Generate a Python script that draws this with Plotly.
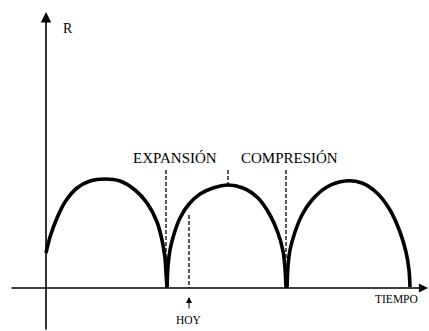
import plotly.graph_objects as go

# Radio del universo (R) frente al tiempo: tres ciclos de expansión y compresión
ciclo1_t = [0, 4, 11, 19, 31, 44, 59, 74, 89, 101, 111, 116, 119, 120, 121]
ciclo1_r = [35, 51, 70, 86, 100, 107, 109, 107, 98, 85, 66, 48, 30, 15, 0]

ciclo2_t = [121, 122, 124, 128, 134, 143, 154, 167, 182, 197, 212, 224, 232, 237, 239, 240]
ciclo2_r = [0, 22, 38, 54, 70, 84, 94, 100, 103, 100, 90, 73, 55, 37, 20, 0]

ciclo3_t = [241, 242, 244, 249, 256, 266, 281, 299, 316, 331, 344, 354, 360, 363, 364]
ciclo3_r = [0, 22, 38, 56, 73, 88, 101, 107, 105, 95, 78, 56, 36, 18, 1]

# marcas punteadas
t_expansion = 120
t_compresion = 240
t_hoy = 143
t_maximo = 182
r_marca_alta = 118
r_hoy = 73
r_maximo = 103

etiquetas = {
    "R": (22, 260),
    "EXPANSIÓN": (129, 130),
    "COMPRESIÓN": (243, 130),
    "TIEMPO": (350, -11),
    "HOY": (143, -32),
}

fig = go.Figure()

for t, r in [(ciclo1_t, ciclo1_r), (ciclo2_t, ciclo2_r), (ciclo3_t, ciclo3_r)]:
    fig.add_trace(go.Scatter(
        x=t, y=r, mode="lines",
        line=dict(color="black", width=3.6, shape="spline", smoothing=0.8),
        hoverinfo="skip", showlegend=False,
    ))

# lineas punteadas
for t, r0, r1 in [
    (t_expansion, r_marca_alta, 30),
    (t_compresion, r_marca_alta, 30),
    (t_hoy, r_hoy, 0),
    (t_maximo, r_marca_alta, r_maximo),
]:
    fig.add_trace(go.Scatter(
        x=[t, t], y=[r0, r1], mode="lines",
        line=dict(color="black", width=1.3, dash="4px,2px"),
        hoverinfo="skip", showlegend=False,
    ))

# ejes con flecha
fig.add_annotation(x=0, y=276, ax=0, ay=-43, xref="x", yref="y", axref="x", ayref="y",
                   text="", showarrow=True, arrowhead=2, arrowsize=1.3, arrowwidth=1.6,
                   arrowcolor="black")
fig.add_annotation(x=382, y=0, ax=-36, ay=0, xref="x", yref="y", axref="x", ayref="y",
                   text="", showarrow=True, arrowhead=2, arrowsize=1.3, arrowwidth=1.4,
                   arrowcolor="black")
# flecha de HOY
fig.add_annotation(x=t_hoy, y=-9, ax=t_hoy, ay=-22, xref="x", yref="y", axref="x", ayref="y",
                   text="", showarrow=True, arrowhead=2, arrowsize=1.2, arrowwidth=1,
                   arrowcolor="black")

tamanos = {"R": 14, "EXPANSIÓN": 15, "COMPRESIÓN": 15, "TIEMPO": 11.5, "HOY": 11.5}
for texto, (t, r) in etiquetas.items():
    fig.add_annotation(x=t, y=r, xref="x", yref="y", text=texto, showarrow=False,
                       font=dict(family="Liberation Serif", size=tamanos[texto], color="black"))

fig.update_xaxes(range=[-46, 383], visible=False, fixedrange=True)
fig.update_yaxes(range=[-43, 288], visible=False, fixedrange=True)
fig.update_layout(
    width=429, height=331,
    margin=dict(l=0, r=0, t=0, b=0),
    paper_bgcolor="white", plot_bgcolor="white",
)

# sin margen del body para que la figura ocupe toda la ventana
fig.write_html("out.html", post_script="document.body.style.margin='0';",
               config={"displayModeBar": False})
